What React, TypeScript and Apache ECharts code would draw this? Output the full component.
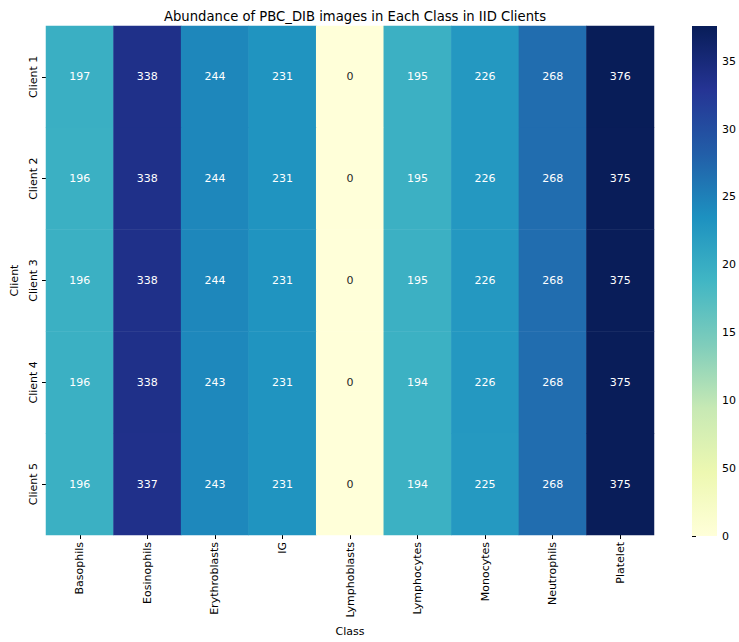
import React, { useEffect, useRef } from "react";
import * as echarts from "echarts";

const classes = ["Basophils", "Eosinophils", "Erythroblasts", "IG", "Lymphoblasts", "Lymphocytes", "Monocytes", "Neutrophils", "Platelet"];
const clients = ["Client 1", "Client 2", "Client 3", "Client 4", "Client 5"];
const client1 = [197, 338, 244, 231, 0, 195, 226, 268, 376];
const client2 = [196, 338, 244, 231, 0, 195, 226, 268, 375];
const client3 = [196, 338, 244, 231, 0, 195, 226, 268, 375];
const client4 = [196, 338, 243, 231, 0, 194, 226, 268, 375];
const client5 = [196, 337, 243, 231, 0, 194, 225, 268, 375];
const rows = [client1, client2, client3, client4, client5];

const VMIN = 0;
const VMAX = 376;
const YLGNBU = ["#ffffd9", "#edf8b1", "#c7e9b4", "#7fcdbb", "#41b6c4", "#1d91c0", "#225ea8", "#253494", "#081d58"];
const FONT = "DejaVu Sans";

export default function App() {
  const ref = useRef<HTMLDivElement>(null);
  useEffect(() => {
    if (!ref.current) return;
    const chart = echarts.init(ref.current, undefined, { renderer: "svg" });
    const data: any[] = [];
    rows.forEach((row, yi) => {
      row.forEach((v, xi) => {
        const light = v / VMAX < 0.3;
        data.push({ value: [xi, yi, v], label: { color: light ? "#262626" : "#ffffff" } });
      });
    });
    const n = YLGNBU.length;
    // ascending offsets (top = dark, bottom = light)
    const gradStops = YLGNBU.map((_, i) => ({ offset: i / (n - 1), color: YLGNBU[n - 1 - i] }));
    chart.setOption({
      animation: false,
      textStyle: { fontFamily: FONT },
      title: {
        text: "Abundance of PBC_DIB images in Each Class in IID Clients",
        left: 350,
        textAlign: "center",
        top: 5,
        textStyle: { fontFamily: FONT, fontSize: 13.2, fontWeight: "normal", color: "#000" },
      },
      grid: [
        { left: 46, top: 26, width: 608, height: 510 },
        { left: 692, top: 26, width: 25, height: 510 },
      ],
      xAxis: [
        {
          gridIndex: 0,
          type: "category",
          data: classes,
          axisLine: { show: false },
          axisTick: { show: true, alignWithLabel: true, length: 4, lineStyle: { color: "#000" } },
          axisLabel: { rotate: 90, fontSize: 11, color: "#000", margin: 7, fontFamily: FONT },
          splitLine: { show: false },
          name: "Class",
          nameLocation: "middle",
          nameGap: 91,
          nameTextStyle: { fontSize: 11, color: "#000", fontFamily: FONT },
        },
        {
          gridIndex: 1,
          type: "value",
          min: 0,
          max: 1,
          show: false,
        },
      ],
      yAxis: [
        {
          gridIndex: 0,
          type: "category",
          data: clients,
          inverse: true,
          axisLine: { show: false },
          axisTick: { show: true, alignWithLabel: true, length: 4, lineStyle: { color: "#000" } },
          axisLabel: { rotate: 90, fontSize: 11, color: "#000", margin: 7, fontFamily: FONT },
          splitLine: { show: false },
          name: "Client",
          nameLocation: "middle",
          nameGap: 25,
          nameRotate: 90,
          nameTextStyle: { fontSize: 11, color: "#000", fontFamily: FONT },
        },
        {
          gridIndex: 1,
          type: "value",
          position: "right",
          min: VMIN,
          max: VMAX,
          interval: 50,
          axisLine: { show: false },
          axisTick: { show: true, length: 4, lineStyle: { color: "#000" } },
          axisLabel: {
            fontSize: 11,
            color: "#000",
            margin: 5,
            fontFamily: FONT,
            showMaxLabel: false,
            formatter: (v: number) => String(v).slice(0, 2),
          },
          splitLine: { show: false },
        },
      ],
      visualMap: {
        show: false,
        min: VMIN,
        max: VMAX,
        seriesIndex: 0,
        dimension: 2,
        inRange: { color: YLGNBU },
      },
      series: [
        {
          type: "heatmap",
          xAxisIndex: 0,
          yAxisIndex: 0,
          data,
          label: { show: true, fontSize: 11, fontFamily: FONT },
          itemStyle: { borderWidth: 0 },
          emphasis: { disabled: true },
        },
        {
          type: "custom",
          xAxisIndex: 1,
          yAxisIndex: 1,
          data: [[0, VMIN, 1, VMAX]],
          renderItem: (params: any, api: any) => {
            const p0 = api.coord([api.value(0), api.value(1)]);
            const p1 = api.coord([api.value(2), api.value(3)]);
            return {
              type: "rect",
              shape: { x: p0[0], y: p1[1], width: p1[0] - p0[0], height: p0[1] - p1[1] },
              style: { fill: new echarts.graphic.LinearGradient(0, 0, 0, 1, gradStops) },
            };
          },
        },
      ],
    });
    return () => chart.dispose();
  }, []);
  return <div ref={ref} style={{ width: 739, height: 642, position: "absolute", left: 0, top: 0 }} />;
}
